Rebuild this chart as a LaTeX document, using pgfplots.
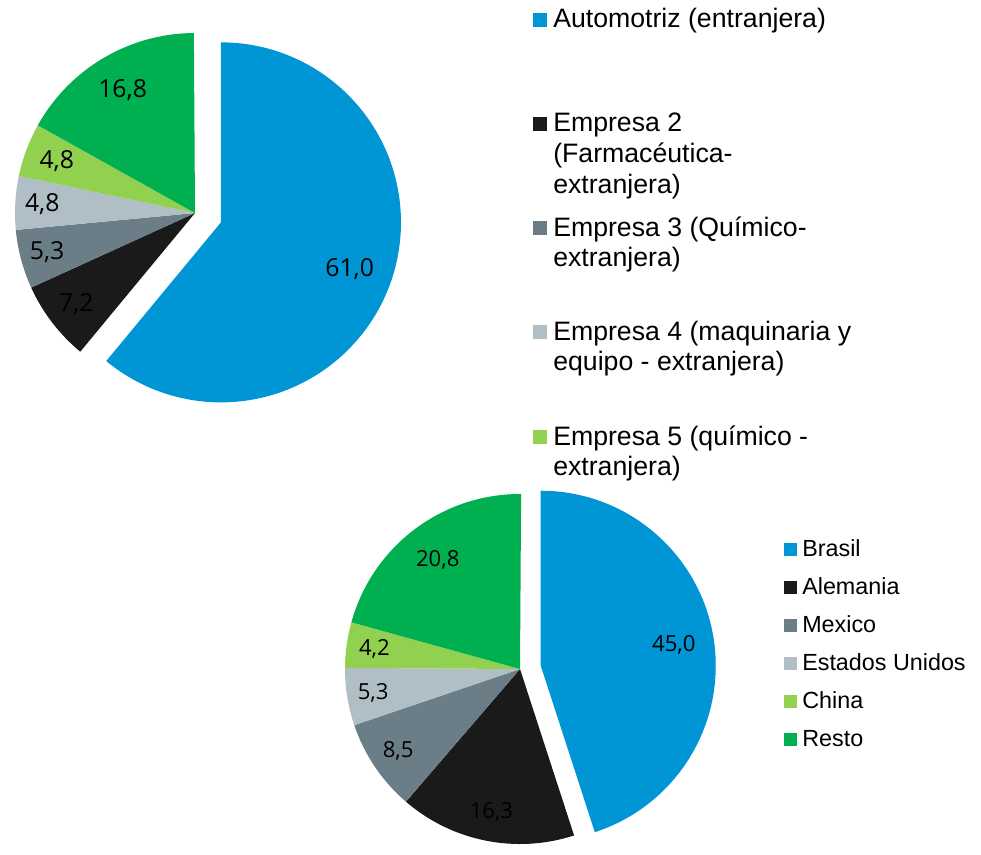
\documentclass[border=0pt]{standalone}
\usepackage{pgfplots}
\pgfplotsset{compat=1.18}
\usepackage{pgfplotstable}
\usepackage{fontspec}
\setmainfont{Liberation Sans}
\newfontfamily\labfont{Open Sans}

\definecolor{cA}{HTML}{0096D6}
\definecolor{cB}{HTML}{1A1A1A}
\definecolor{cC}{HTML}{6B7D87}
\definecolor{cD}{HTML}{B0BEC5}
\definecolor{cE}{HTML}{92D050}
\definecolor{cF}{HTML}{00B050}

% value, colour, explosion offset (px), label radius factor
\pgfplotstableread{
val col off lr
61.0 cA 27.6 0.76
7.2 cB 0 0.83
5.3 cC 0 0.85
4.8 cD 0 0.85
4.8 cE 0 0.82
16.8 cF 0 0.79
}\tabA

\pgfplotstableread{
val col off lr
45.0 cA 21 0.77
16.3 cB 0 0.83
8.5 cC 0 0.84
5.3 cD 0 0.85
4.2 cE 0 0.84
20.8 cF 0 0.78
}\tabB

% #1 table, #2 cx, #3 cy (px), #4 radius (px), #5 font size
\newcommand\drawpie[5]{%
  \def\pAcc{90}%
  \pgfplotstablegetrowsof{#1}%
  \pgfmathtruncatemacro\pLast{\pgfplotsretval-1}%
  \pgfplotsforeachungrouped \pI in {0,...,\pLast}{%
    \pgfplotstablegetelem{\pI}{val}\of{#1}\edef\pVal{\pgfplotsretval}%
    \pgfplotstablegetelem{\pI}{col}\of{#1}\edef\pCol{\pgfplotsretval}%
    \pgfplotstablegetelem{\pI}{off}\of{#1}\edef\pOff{\pgfplotsretval}%
    \pgfplotstablegetelem{\pI}{lr}\of{#1}\edef\pLr{\pgfplotsretval}%
    \pgfmathsetmacro\pSa{\pAcc}%
    \pgfmathsetmacro\pEa{\pAcc-3.6*\pVal}%
    \pgfmathsetmacro\pMa{(\pSa+\pEa)/2}%
    \pgfmathsetmacro\pR{#4*0.75}%
    \pgfmathsetmacro\pO{\pOff*0.75}%
    \pgfmathsetmacro\pL{\pLr*\pR}%
    \fill[\pCol] (axis cs:#2,#3) ++(\pMa:\pO pt) -- ++(\pSa:\pR pt)
      arc[start angle=\pSa, end angle=\pEa, radius=\pR pt] -- cycle;
    \path (axis cs:#2,#3) ++(\pMa:\pO pt) ++(\pMa:\pL pt)
      node[font=\labfont\fontsize{#5}{#5}\selectfont, text=black, inner sep=0pt]
      {\pgfmathprintnumber[fixed,fixed zerofill,precision=1,use comma,assume math mode=true]{\pVal}};
    \let\pAcc\pEa
  }%
}

\newcommand\legtop[2]{\node[anchor=base west, inner sep=0pt, font=\fontsize{20pt}{24pt}\selectfont] at (axis cs:553,#1) {#2};}
\newcommand\legbot[2]{\node[anchor=base west, inner sep=0pt, font=\fontsize{17.5pt}{21pt}\selectfont] at (axis cs:802,#1) {#2};}

\begin{document}
\begin{tikzpicture}
\begin{axis}[
  x=0.75pt, y=0.75pt,
  xmin=0, xmax=981, ymin=0, ymax=841,
  y dir=reverse,
  hide axis, clip=false,
]
\pgfplotsextra{%
  \path (axis cs:0,0) rectangle (axis cs:981,841);
  \drawpie{\tabA}{195}{213}{180}{18.6pt}
  \drawpie{\tabB}{520}{669}{175}{16.6pt}
  % top legend
  \fill[cA] (axis cs:533,12.5) rectangle (axis cs:547,26.5);
  \fill[cB] (axis cs:533,116.5) rectangle (axis cs:547,130.5);
  \fill[cC] (axis cs:533,220.5) rectangle (axis cs:547,234.5);
  \fill[cD] (axis cs:533,324.5) rectangle (axis cs:547,338.5);
  \fill[cE] (axis cs:533,429.5) rectangle (axis cs:547,443.5);
  \legtop{27.3}{Automotriz (entranjera)}
  \legtop{131.7}{Empresa 2}
  \legtop{162.3}{(Farmacéutica-}
  \legtop{193.0}{extranjera)}
  \legtop{236.0}{Empresa 3 (Químico-}
  \legtop{266.7}{extranjera)}
  \legtop{340.0}{Empresa 4 (maquinaria y}
  \legtop{370.7}{equipo - extranjera)}
  \legtop{445.0}{Empresa 5 (químico -}
  \legtop{475.7}{extranjera)}
  % bottom legend
  \fill[cA] (axis cs:784,542.5) rectangle (axis cs:797,555.5);
  \fill[cB] (axis cs:784,580.5) rectangle (axis cs:797,593.5);
  \fill[cC] (axis cs:784,618.5) rectangle (axis cs:797,631.5);
  \fill[cD] (axis cs:784,656.5) rectangle (axis cs:797,669.5);
  \fill[cE] (axis cs:784,694.5) rectangle (axis cs:797,707.5);
  \fill[cF] (axis cs:784,732.5) rectangle (axis cs:797,745.5);
  \legbot{556.7}{Brasil}
  \legbot{594.7}{Alemania}
  \legbot{632.7}{Mexico}
  \legbot{670.7}{Estados Unidos}
  \legbot{708.7}{China}
  \legbot{746.7}{Resto}
}
\end{axis}
\end{tikzpicture}
\end{document}
